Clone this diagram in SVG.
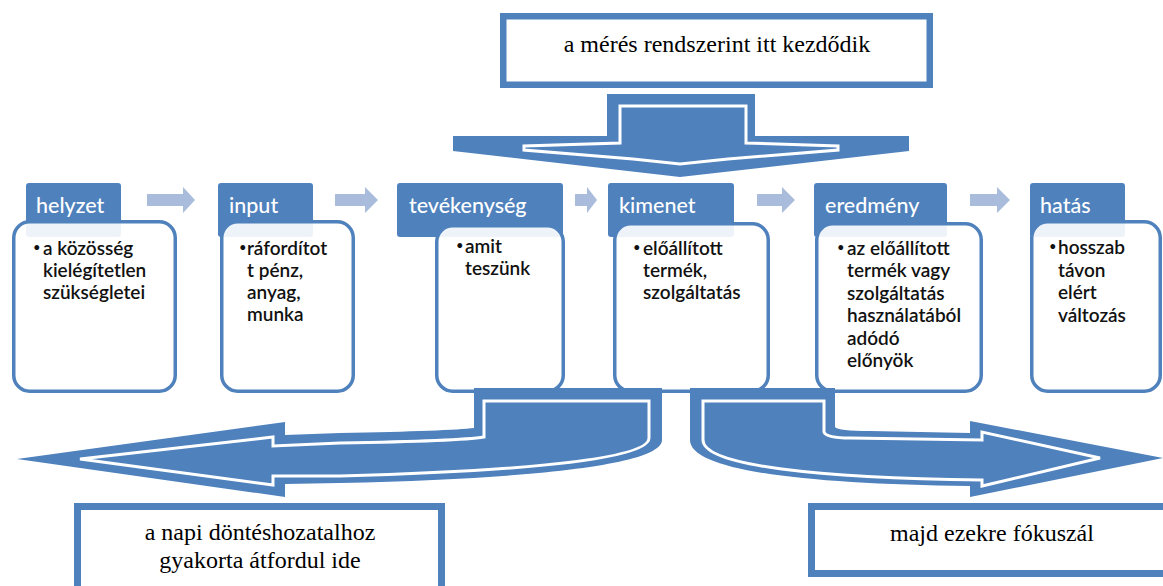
<svg xmlns="http://www.w3.org/2000/svg" width="1163" height="586" viewBox="0 0 1163 586">
<style>
.hdr{fill:#4F81BD}
.hdrt{font-family:Lato,"Open Sans",sans-serif;font-size:21.5px;font-weight:500;fill:#fff}
.body{fill:#fff;fill-opacity:0.9;stroke:#4F81BD;stroke-width:3.5}
.bt{font-family:Lato,"Open Sans",sans-serif;font-size:19px;font-weight:600;fill:#111}
.bul{font-family:Lato,"Open Sans",sans-serif;font-size:13px;fill:#111}
.la{fill:#A9BCDC}
.big{fill:#4F81BD}
.inner{fill:#4F81BD;stroke:#fff;stroke-width:3;stroke-linejoin:miter}
.box{fill:#fff;stroke:#4F81BD;stroke-width:7}
.bx{font-family:"Liberation Serif","Times New Roman",serif;font-size:24px;fill:#000;text-anchor:middle}
</style>
<rect width="1163" height="586" fill="#fff"/>

<g id="top-box">
<rect class="box" x="503.25" y="16.25" width="426.5" height="68.5" style="stroke-width:6.5"/>
<text class="bx" x="717" y="52">a mérés rendszerint itt kezdődik</text>
</g>

<g id="node-helyzet">
<rect class="hdr" x="26" y="183" width="95" height="54" rx="3"/>
<text class="hdrt" x="36" y="213">helyzet</text>
<rect class="body" x="13.75" y="221.75" width="161.5" height="169.5" rx="16"/>
<text class="bul" x="33" y="252">•</text>
<text class="bt" x="43" y="255">a közösség</text>
<text class="bt" x="43" y="277">kielégítetlen</text>
<text class="bt" x="43" y="299">szükségletei</text>
</g>

<g id="node-input">
<rect class="hdr" x="218" y="183" width="95" height="54" rx="3"/>
<text class="hdrt" x="229" y="213">input</text>
<rect class="body" x="221.75" y="221.75" width="131.5" height="169.5" rx="16"/>
<text class="bul" x="239" y="252">•</text>
<text class="bt" x="247" y="255">ráfordítot</text>
<text class="bt" x="247" y="277">t pénz,</text>
<text class="bt" x="247" y="299">anyag,</text>
<text class="bt" x="247" y="321">munka</text>
</g>

<g id="node-tevekenyseg">
<rect class="hdr" x="397" y="183" width="166" height="54" rx="3"/>
<text class="hdrt" x="409" y="213">tevékenység</text>
<rect class="body" x="436.75" y="225.75" width="126.5" height="165.5" rx="16"/>
<text class="bul" x="456" y="250">•</text>
<text class="bt" x="465" y="253">amit</text>
<text class="bt" x="465" y="275">teszünk</text>
</g>

<g id="node-kimenet">
<rect class="hdr" x="608" y="183" width="126" height="54" rx="3"/>
<text class="hdrt" x="619" y="213">kimenet</text>
<rect class="body" x="614.75" y="223.75" width="153.5" height="167.5" rx="16"/>
<text class="bul" x="633" y="252">•</text>
<text class="bt" x="643" y="255">előállított</text>
<text class="bt" x="643" y="277">termék,</text>
<text class="bt" x="643" y="299">szolgáltatás</text>
</g>

<g id="node-eredmeny">
<rect class="hdr" x="814" y="183" width="133" height="54" rx="3"/>
<text class="hdrt" x="825" y="213">eredmény</text>
<rect class="body" x="816.75" y="223.75" width="164.5" height="167.5" rx="16"/>
<text class="bul" x="837" y="252">•</text>
<text class="bt" x="847" y="255">az előállított</text>
<text class="bt" x="847" y="277">termék vagy</text>
<text class="bt" x="847" y="300">szolgáltatás</text>
<text class="bt" x="847" y="322">használatából</text>
<text class="bt" x="847" y="345">adódó</text>
<text class="bt" x="847" y="367">előnyök</text>
</g>

<g id="node-hatas">
<rect class="hdr" x="1030" y="183" width="95" height="54" rx="3"/>
<text class="hdrt" x="1040" y="213">hatás</text>
<rect class="body" x="1031.75" y="221.75" width="128.5" height="169.5" rx="16"/>
<text class="bul" x="1049" y="251">•</text>
<text class="bt" x="1058" y="254">hosszab</text>
<text class="bt" x="1058" y="277">távon</text>
<text class="bt" x="1058" y="299">elért</text>
<text class="bt" x="1058" y="322">változás</text>
</g>

<g id="connectors">
<polygon class="la" points="147,194 183,194 183,187 195,200 183,213 183,206 147,206"/>
<polygon class="la" points="335,194 365,194 365,187 378,200 365,213 365,206 335,206"/>
<polygon class="la" points="575,194 587,194 587,187 597,200 587,213 587,206 575,206"/>
<polygon class="la" points="757,194 782,194 782,187 795,200 782,213 782,206 757,206"/>
<polygon class="la" points="970,194 997,194 997,187 1010,200 997,213 997,206 970,206"/>

<path class="big" d="M607,94 L755,94 L755,136 L909,136 L909,151 L680,177 L453,151 L453,136 L607,136 Z"/>
<path class="inner" d="M620,143 L620,106 L746,106 L746,143 L838,146 L838,150 L728,159 L680,164 L633,159 L524,150 L524,146 Z"/>

<path class="big" d="M474,388 L662,388 L662,440 C662,462 560,478 340,483 L285,484 L285,497 L17,459 L285,422 L285,435 L340,433 Q450,431 474,428 Z"/>
<path class="inner" d="M484,401 L649,401 L649,438 C649,456 560,470 340,476 L273,476 L273,485 L80,459 L273,437 L273,446 L340,443 Q460,441 484,437 Z"/>

<path class="big" d="M690,388 L835,388 L835,427 Q838,431 870,431 L970,433 L970,421 L1163,458 L970,497 L970,486 C800,484 690,470 690,440 Z"/>
<path class="inner" d="M703,401 L824,401 L824,432 Q826,438 850,438 L982,440 L982,432 L1100,458 L982,486 L982,480 C820,478 703,466 703,440 Z"/>
</g>

<g id="box-left">
<rect class="box" x="77.5" y="506.5" width="364" height="100"/>
<text class="bx" x="260" y="540">a napi döntéshozatalhoz</text>
<text class="bx" x="260" y="568">gyakorta átfordul ide</text>
</g>

<g id="box-right">
<rect class="box" x="811.5" y="506.5" width="360" height="67"/>
<text class="bx" x="992" y="541">majd ezekre fókuszál</text>
</g>
</svg>
